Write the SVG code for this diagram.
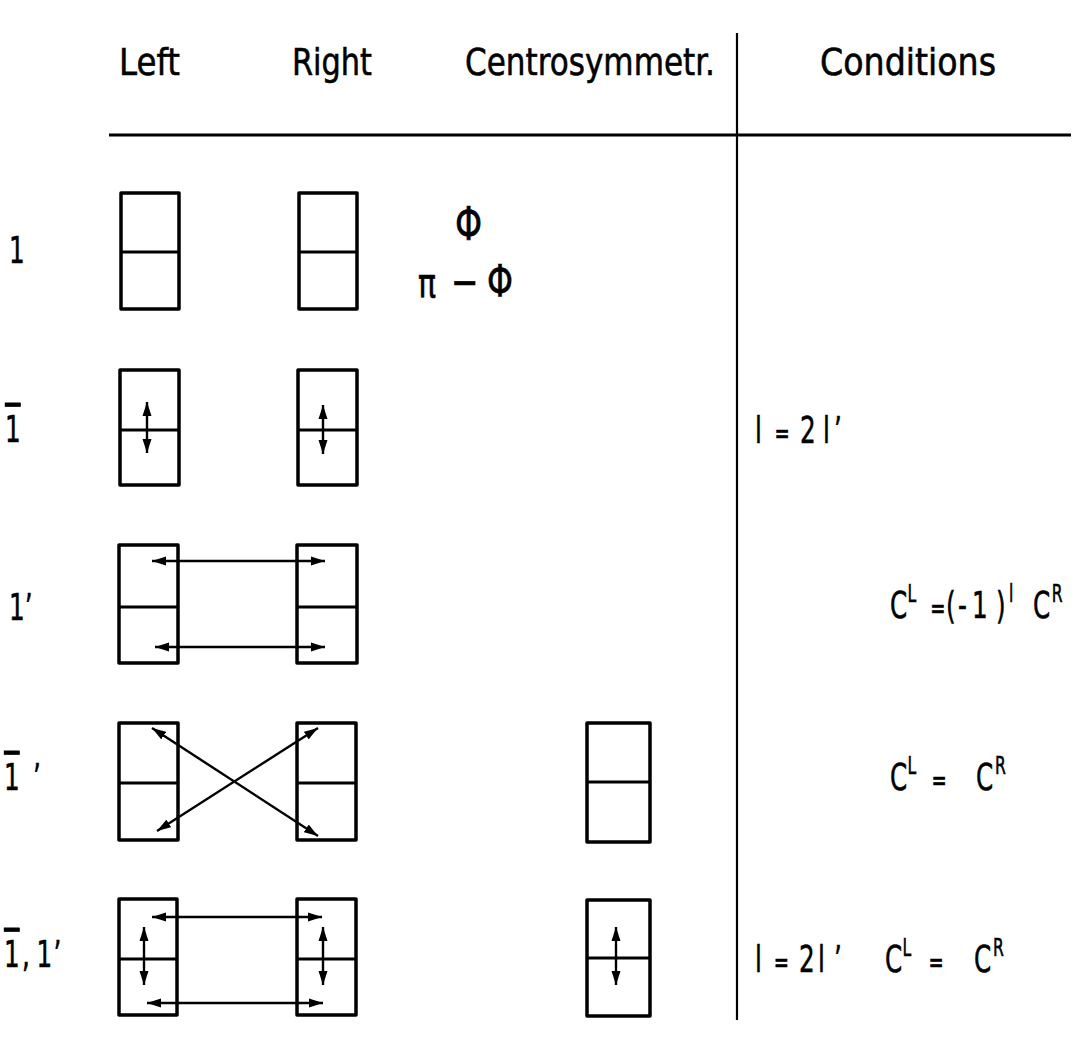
<svg xmlns="http://www.w3.org/2000/svg" width="1092" height="1044" viewBox="0 0 1092 1044">
<style>
  .box{fill:none;stroke:#000;stroke-width:3.5;stroke-linejoin:round}
  .div{stroke:#000;stroke-width:3}
  .arr{stroke:#000;stroke-width:2.4;fill:none;marker-start:url(#ah);marker-end:url(#ah)}
  .t{font-family:"DejaVu Sans","Liberation Sans",sans-serif;fill:#000;stroke:#000;stroke-width:0.6}
  .h{font-size:38px}
  .c{font-size:38px}
  .eq{font-size:28px}
  .s{font-size:24px}
  .ov{text-decoration:overline}
</style>
<defs>
  <marker id="ah" viewBox="0 0 14 10" refX="14" refY="5" markerWidth="14" markerHeight="10" markerUnits="userSpaceOnUse" orient="auto-start-reverse">
    <path d="M0,0.5 L14,5 L0,9.5 Z" fill="#000"/>
  </marker>
</defs>
<rect width="1092" height="1044" fill="#fff"/>

<g id="table-lines">
  <line x1="109" y1="135" x2="1071" y2="135" stroke="#000" stroke-width="3"/>
  <line x1="737" y1="33" x2="737" y2="1020" stroke="#000" stroke-width="2.2"/>
</g>

<g id="headers">
  <text class="t h" x="119" y="75" textLength="61" lengthAdjust="spacingAndGlyphs">Left</text>
  <text class="t h" x="292" y="75" textLength="80" lengthAdjust="spacingAndGlyphs">Right</text>
  <text class="t h" x="465" y="75" textLength="250" lengthAdjust="spacingAndGlyphs">Centrosymmetr.</text>
  <text class="t h" x="820" y="75" textLength="176" lengthAdjust="spacingAndGlyphs">Conditions</text>
</g>

<g id="row-labels">
  <text class="t h" transform="translate(9,263) scale(0.65,1)" x="0" y="0">1</text>
  <text class="t h" transform="translate(5,442) scale(0.65,1)" x="0" y="0"><tspan class="ov">1</tspan></text>
  <text class="t h" transform="translate(9,620) scale(0.65,1)" x="0" y="0">1’</text>
  <text class="t h" transform="translate(4,790) scale(0.65,1)" x="0" y="0"><tspan class="ov">1</tspan><tspan x="44.6">’</tspan></text>
  <text class="t h" transform="translate(4,967) scale(0.65,1)" x="0" y="0"><tspan class="ov">1</tspan><tspan x="27.7">,</tspan><tspan x="50">1</tspan><tspan x="76">’</tspan></text>
</g>

<g id="row1">
  <g id="r1-left"><rect class="box" x="121" y="193" width="58" height="116"/><line class="div" x1="121" y1="252" x2="179" y2="252"/></g>
  <g id="r1-right"><rect class="box" x="299" y="193" width="58" height="116"/><line class="div" x1="299" y1="252" x2="357" y2="252"/></g>
  <g id="r1-centro">
    <text class="t" transform="translate(455,240) scale(0.75,1)" x="0" y="0" font-size="46">Φ</text>
    <text class="t" transform="translate(418,297) scale(0.75,1)" x="0" y="0" font-size="40">π<tspan x="44" font-size="44">−</tspan><tspan x="92" font-size="44">Φ</tspan></text>
  </g>
</g>

<g id="row2">
  <g id="r2-left"><rect class="box" x="120" y="370" width="59" height="115"/><line class="div" x1="120" y1="430" x2="179" y2="430"/></g>
  <g id="r2-right"><rect class="box" x="298" y="370" width="59" height="115"/><line class="div" x1="298" y1="430" x2="357" y2="430"/></g>
  <text class="t c" transform="translate(755,443) scale(0.65,1)" x="0" y="0">l<tspan class="eq" x="30" y="0">=</tspan><tspan x="69.2" y="0">2</tspan><tspan x="104.6">l</tspan><tspan x="121.5">’</tspan></text>
</g>

<g id="row3">
  <g id="r3-left"><rect class="box" x="119" y="545" width="59" height="118"/><line class="div" x1="119" y1="607" x2="178" y2="607"/></g>
  <g id="r3-right"><rect class="box" x="297" y="545" width="60" height="118"/><line class="div" x1="297" y1="607" x2="357" y2="607"/></g>
  <text class="t c" transform="translate(890,618) scale(0.65,1)" x="0" y="0">C<tspan class="s" x="27" y="-16">L</tspan><tspan class="eq" x="62" y="0">=</tspan><tspan x="86.2">(</tspan><tspan x="104.6">-</tspan><tspan x="126.2">1</tspan><tspan x="163">)</tspan><tspan class="s" x="183" y="-16">l</tspan><tspan x="220" y="0">C</tspan><tspan class="s" x="249" y="-16">R</tspan></text>
</g>

<g id="row4">
  <g id="r4-left"><rect class="box" x="119" y="723" width="59" height="117"/><line class="div" x1="119" y1="783" x2="178" y2="783"/></g>
  <g id="r4-right"><rect class="box" x="297" y="723" width="59" height="117"/><line class="div" x1="297" y1="783" x2="356" y2="783"/></g>
  <g id="r4-centro"><rect class="box" x="587" y="723" width="63" height="119"/><line class="div" x1="587" y1="782" x2="650" y2="782"/></g>
  <text class="t c" transform="translate(890,790) scale(0.65,1)" x="0" y="0">C<tspan class="s" x="27" y="-16">L</tspan><tspan class="eq" x="64" y="0">=</tspan><tspan x="132.3" y="0">C</tspan><tspan class="s" x="161.5" y="-16">R</tspan></text>
</g>

<g id="row5">
  <g id="r5-left"><rect class="box" x="119" y="899" width="58" height="116"/><line class="div" x1="119" y1="959" x2="177" y2="959"/></g>
  <g id="r5-right"><rect class="box" x="297" y="899" width="59" height="116"/><line class="div" x1="297" y1="959" x2="356" y2="959"/></g>
  <g id="r5-centro"><rect class="box" x="587" y="900" width="63" height="116"/><line class="div" x1="587" y1="958" x2="650" y2="958"/></g>
  <text class="t c" transform="translate(755,972) scale(0.65,1)" x="0" y="0">l<tspan class="eq" x="29" y="0">=</tspan><tspan x="67.7" y="0">2</tspan><tspan x="96.9">l</tspan><tspan x="121.5">’</tspan></text>
  <text class="t c" transform="translate(885,972) scale(0.65,1)" x="0" y="0">C<tspan class="s" x="27" y="-16">L</tspan><tspan class="eq" x="67" y="0">=</tspan><tspan x="136.9" y="0">C</tspan><tspan class="s" x="166" y="-16">R</tspan></text>
</g>

<g id="connectors">
  <line class="arr" x1="147" y1="402" x2="147" y2="453"/>
  <line class="arr" x1="323" y1="405" x2="323" y2="454"/>
  <line class="arr" x1="152" y1="561" x2="325" y2="561"/>
  <line class="arr" x1="155" y1="647" x2="325" y2="647"/>
  <line class="arr" x1="152" y1="728" x2="318" y2="836"/>
  <line class="arr" x1="157" y1="831" x2="318" y2="728"/>
  <line class="arr" x1="152" y1="917" x2="322" y2="917"/>
  <line class="arr" x1="147" y1="1003" x2="323" y2="1003"/>
  <line class="arr" x1="144" y1="927" x2="144" y2="985"/>
  <line class="arr" x1="323" y1="927" x2="323" y2="985"/>
  <line class="arr" x1="616" y1="927" x2="616" y2="985"/>
</g>
</svg>
